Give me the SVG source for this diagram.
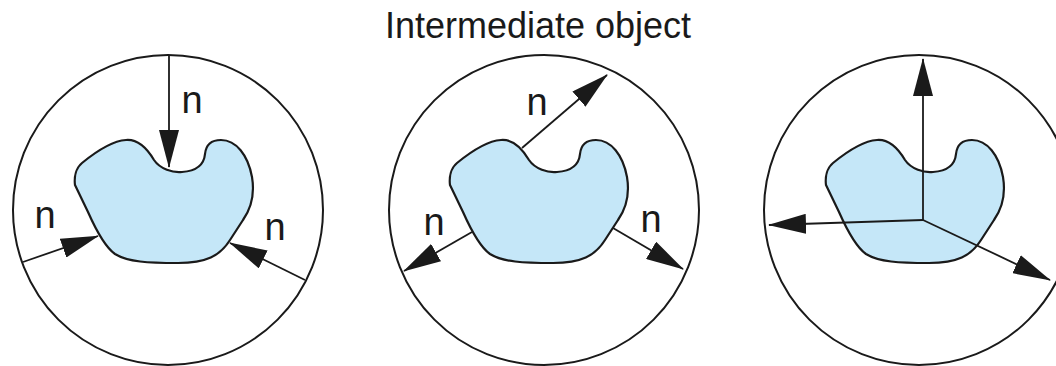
<svg xmlns="http://www.w3.org/2000/svg" width="1056" height="366" viewBox="0 0 1056 366">
  <style>
    .circ { fill: none; stroke: #1a1a1a; stroke-width: 2; }
    .blob { fill: #c5e7f8; stroke: #1a1a1a; stroke-width: 2.2; stroke-linejoin: round; }
    .arr { fill: none; stroke: #1a1a1a; stroke-width: 1.8; marker-end: url(#head); }
    .lbl { font-family: "Liberation Sans", Arial, sans-serif; font-size: 38px; fill: #1a1a1a; text-anchor: middle; }
    .title { font-family: "Liberation Sans", Arial, sans-serif; font-size: 36px; fill: #1a1a1a; text-anchor: middle; }
  </style>
  <defs>
    <marker id="head" viewBox="0 0 38 20" markerWidth="38" markerHeight="20" refX="37" refY="10" orient="auto" markerUnits="userSpaceOnUse">
      <path d="M0,0 L38,10 L0,20 Z" fill="#1a1a1a"/>
    </marker>
    <path id="blobShape" d="M -93,-25 C -94,-33 -92,-42 -86,-47 C -75,-56 -58,-69 -42,-70 C -30,-71 -20,-60 -14,-50 C -8,-41 5,-37 14,-38 C 28,-39 36,-45 37,-56 C 38,-66 44,-70 53,-70 C 68,-70 80,-55 84,-33 C 87,-15 82,0 75,10 L 62,30 C 52,46 38,53 10,53 C -20,53 -40,52 -53,44 C -63,37 -72,20 -80,2 Z"/>
  </defs>
  <rect width="1056" height="366" fill="#ffffff"/>

  <g id="title">
    <text class="title" x="538" y="38">Intermediate object</text>
  </g>

  <g id="panel1">
    <circle class="circ" cx="168" cy="210" r="155"/>
    <use href="#blobShape" class="blob" transform="translate(168,210)"/>
  </g>
  <g id="panel2">
    <circle class="circ" cx="544" cy="210" r="155"/>
    <use href="#blobShape" class="blob" transform="translate(543,210)"/>
  </g>
  <g id="panel3">
    <circle class="circ" cx="919" cy="210" r="155"/>
    <use href="#blobShape" class="blob" transform="translate(919,210)"/>
  </g>

  <g id="connectors">
    <line class="arr" x1="169" y1="55" x2="169" y2="167"/>
    <line class="arr" x1="23" y1="262" x2="98" y2="236"/>
    <line class="arr" x1="305" y1="280" x2="230" y2="243"/>

    <line class="arr" x1="522" y1="148" x2="607" y2="75"/>
    <line class="arr" x1="472" y1="232" x2="404" y2="271"/>
    <line class="arr" x1="613" y1="228" x2="683" y2="269"/>

    <line class="arr" x1="923" y1="220" x2="923" y2="59"/>
    <line class="arr" x1="923" y1="220" x2="769" y2="225"/>
    <line class="arr" x1="923" y1="220" x2="1050" y2="280"/>
  </g>

  <g id="labels">
    <text class="lbl" x="192" y="113">n</text>
    <text class="lbl" x="45" y="228">n</text>
    <text class="lbl" x="275" y="240">n</text>
    <text class="lbl" x="537" y="115">n</text>
    <text class="lbl" x="434" y="235">n</text>
    <text class="lbl" x="651" y="232">n</text>
  </g>
</svg>
